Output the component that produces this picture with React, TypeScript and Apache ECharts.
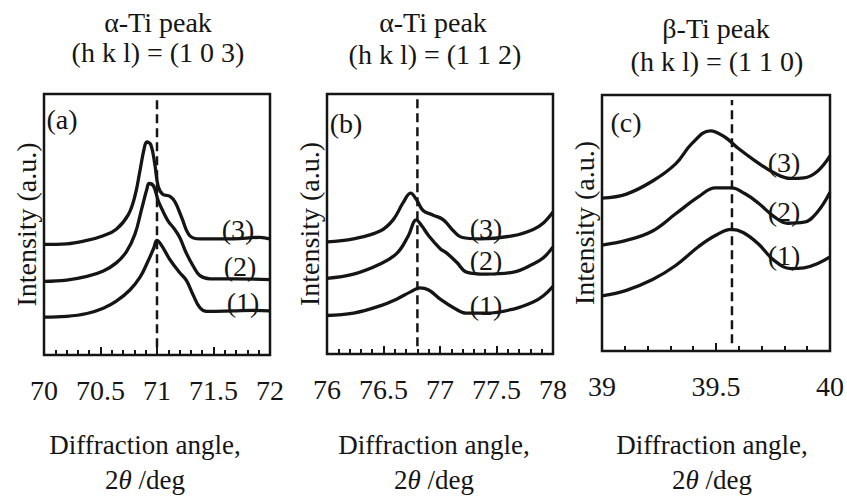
import React, { useEffect, useRef } from "react";
import * as echarts from "echarts";

// ---- data ----
const rangeA = [70, 72];
const rangeB = [76, 78];
const rangeC = [39, 40];

const aX1 = [70.0, 70.2, 70.38, 70.525, 70.64, 70.76, 70.85, 70.92, 70.97, 71.0, 71.04, 71.115, 71.2, 71.26, 71.32, 71.38, 71.44, 71.675, 71.85, 72.0];
const aY1 = [14.5, 14.8, 15.9, 17.9, 20.6, 24.9, 29.8, 35.9, 40.8, 43.9, 42.0, 36.5, 31.6, 28.6, 23.0, 18.1, 16.7, 16.9, 17.1, 16.9];
const aX2 = [70.0, 70.2, 70.38, 70.525, 70.64, 70.73, 70.805, 70.865, 70.91, 70.93, 70.97, 71.01, 71.055, 71.1, 71.145, 71.2, 71.26, 71.32, 71.38, 71.47, 71.675, 72.0];
const aY2 = [28.2, 28.7, 30.1, 32.2, 35.3, 39.6, 46.3, 56.1, 63.5, 65.7, 64.7, 59.2, 54.9, 51.2, 48.8, 45.1, 39.0, 34.1, 30.4, 29.2, 29.2, 28.9];
const aX3 = [70.0, 70.2, 70.38, 70.525, 70.64, 70.745, 70.805, 70.85, 70.885, 70.91, 70.945, 70.98, 71.01, 71.05, 71.115, 71.16, 71.22, 71.29, 71.38, 71.675, 71.91, 72.0];
const aY3 = [42.4, 42.6, 43.9, 45.7, 48.2, 53.7, 61.0, 70.8, 78.8, 81.6, 80.6, 73.3, 64.7, 61.6, 60.8, 58.6, 52.5, 45.7, 44.5, 44.5, 45.1, 44.5];

const bX1 = [76.0, 76.235, 76.47, 76.62, 76.735, 76.82, 76.9, 77.0, 77.12, 77.235, 77.41, 77.65, 77.825, 77.915, 78.0];
const bY1 = [14.8, 15.7, 18.5, 21.2, 23.8, 25.4, 24.6, 21.2, 17.8, 15.7, 15.7, 17.3, 20.0, 22.4, 26.0];
const bX2 = [76.0, 76.235, 76.47, 76.62, 76.72, 76.79, 76.84, 76.9, 77.0, 77.06, 77.15, 77.235, 77.41, 77.65, 77.825, 77.915, 78.0];
const bY2 = [29.1, 30.7, 34.6, 38.8, 45.5, 51.6, 49.2, 45.5, 40.6, 38.8, 35.2, 31.5, 30.7, 31.5, 34.6, 37.0, 41.2];
const bX3 = [76.0, 76.235, 76.47, 76.585, 76.675, 76.74, 76.79, 76.85, 76.94, 77.03, 77.12, 77.19, 77.355, 77.65, 77.825, 77.915, 78.0];
const bY3 = [43.1, 44.3, 47.3, 51.6, 58.3, 61.9, 59.5, 55.2, 53.4, 51.6, 47.3, 44.9, 44.3, 45.5, 47.9, 50.4, 54.6];

const cX1 = [39.0, 39.107, 39.222, 39.323, 39.424, 39.497, 39.568, 39.619, 39.684, 39.756, 39.828, 39.886, 39.944, 40.0];
const cY1 = [21.5, 23.7, 27.9, 33.4, 40.8, 45.1, 47.5, 46.3, 42.0, 35.3, 32.2, 32.5, 34.1, 36.8];
const cX2 = [39.0, 39.107, 39.222, 39.323, 39.424, 39.497, 39.568, 39.626, 39.684, 39.756, 39.814, 39.886, 39.944, 40.0];
const cY2 = [41.4, 43.2, 46.9, 53.6, 60.3, 63.7, 63.7, 61.5, 57.9, 52.4, 49.9, 50.3, 54.2, 62.0];
const cX3 = [39.0, 39.107, 39.222, 39.323, 39.395, 39.475, 39.54, 39.597, 39.67, 39.756, 39.828, 39.886, 39.944, 40.0];
const cY3 = [59.7, 61.3, 66.4, 73.1, 81.1, 86.0, 83.5, 79.2, 74.4, 69.5, 67.4, 67.6, 70.1, 76.2];

const peakPositions = [71.0, 76.8, 39.57];
const peakLineSpan = [3, 98];

const titlesLine1 = ["α-Ti peak", "α-Ti peak", "β-Ti peak"];
const titlesLine2 = ["(h k l) = (1 0 3)", "(h k l) = (1 1 2)", "(h k l) = (1 1 0)"];
const panelTags = ["(a)", "(b)", "(c)"];
const curveTags = ["(1)", "(2)", "(3)"];

const FONT = "'Liberation Serif', 'Times New Roman', serif";
const INK = "#151515";

const grids = [
  { left: 44, top: 94, width: 226, height: 272 },
  { left: 327, top: 94, width: 226, height: 274 },
  { left: 602, top: 95, width: 231, height: 273 },
];

function pairs(xs: number[], ys: number[]) {
  return xs.map((x, i) => [x, ys[i]]);
}

function txt(text: string, x: number, y: number, size = 28) {
  return {
    type: "text",
    x,
    y,
    silent: true,
    style: {
      text,
      fontSize: size,
      fontFamily: FONT,
      fill: INK,
      align: "center",
      verticalAlign: "middle",
      textAlign: "center",
      textVerticalAlign: "middle",
    },
  };
}

export default function App() {
  const ref = useRef<HTMLDivElement>(null);

  useEffect(() => {
    document.body.style.margin = "0";
    if (!ref.current) return;
    const chart = echarts.init(ref.current, undefined, { renderer: "svg" });

    const ranges = [rangeA, rangeB, rangeC];
    const curves = [
      [pairs(aX1, aY1), pairs(aX2, aY2), pairs(aX3, aY3)],
      [pairs(bX1, bY1), pairs(bX2, bY2), pairs(bX3, bY3)],
      [pairs(cX1, cY1), pairs(cX2, cY2), pairs(cX3, cY3)],
    ];
    const xNameGaps = [72, 73, 76];
    const xNamePad = [[0, 24, 0, 0], [0, 12, 0, 0], [0, 8, 0, 0]];

    const series: any[] = [];
    curves.forEach((panel, gi) => {
      panel.forEach((data, ci) => {
        series.push({
          type: "line",
          name: `${panelTags[gi]} ${curveTags[ci]}`,
          xAxisIndex: gi,
          yAxisIndex: gi,
          data,
          smooth: 0.4,
          showSymbol: false,
          symbol: "none",
          lineStyle: { color: INK, width: 3.3 },
          silent: true,
        });
      });
      series.push({
        type: "line",
        name: `${panelTags[gi]} peak`,
        xAxisIndex: gi,
        yAxisIndex: gi,
        data: peakLineSpan.map((v) => [peakPositions[gi], v]),
        showSymbol: false,
        symbol: "none",
        lineStyle: { color: INK, width: 2.5, type: [9, 5] },
        silent: true,
      });
    });

    const graphic: any[] = [
      txt(titlesLine1[0], 158, 22),
      txt(titlesLine2[0], 158, 52),
      txt(titlesLine1[1], 433, 22),
      txt(titlesLine2[1], 435, 54),
      txt(titlesLine1[2], 716, 28),
      txt(titlesLine2[2], 717, 61),
      txt(panelTags[0], 62, 119),
      txt(panelTags[1], 346, 123),
      txt(panelTags[2], 626, 122),
      txt(curveTags[2], 238, 229),
      txt(curveTags[1], 240, 266),
      txt(curveTags[0], 243, 302),
      txt(curveTags[2], 486, 228),
      txt(curveTags[1], 486, 260),
      txt(curveTags[0], 486, 305),
      txt(curveTags[2], 784, 162),
      txt(curveTags[1], 784, 211),
      txt(curveTags[0], 784, 255),
    ];

    const option: any = {
      animation: false,
      backgroundColor: "#ffffff",
      textStyle: { fontFamily: FONT },
      grid: grids.map((g) => ({
        ...g,
        show: true,
        borderColor: INK,
        borderWidth: 2.5,
        backgroundColor: "transparent",
        containLabel: false,
      })),
      xAxis: ranges.map((r, gi) => ({
        type: "value",
        gridIndex: gi,
        min: r[0],
        max: r[1],
        interval: 0.5,
        axisLine: { show: false },
        axisTick: { show: true, inside: true, length: 8, lineStyle: { color: INK, width: 2 } },
        minorTick: { show: true, splitNumber: 5, length: 5, lineStyle: { color: INK, width: 2 } },
        splitLine: { show: false },
        minorSplitLine: { show: false },
        axisLabel: {
          show: true,
          margin: 21,
          fontSize: 28,
          fontFamily: FONT,
          color: INK,
        },
        name: "Diffraction angle,\n2{i|θ} /deg",
        nameLocation: "middle",
        nameGap: xNameGaps[gi],
        nameTextStyle: {
          fontSize: 27,
          fontFamily: FONT,
          color: INK,
          lineHeight: 35,
          padding: xNamePad[gi],
          rich: {
            i: { fontSize: 27, fontFamily: FONT, fontStyle: "italic", color: INK },
          },
        },
      })),
      yAxis: ranges.map((_, gi) => ({
        type: "value",
        gridIndex: gi,
        min: 0,
        max: 100,
        axisLine: { show: false },
        axisTick: { show: false },
        axisLabel: { show: false },
        splitLine: { show: false },
        name: "Intensity (a.u.)",
        nameLocation: "middle",
        nameRotate: 90,
        nameGap: 4,
        nameTextStyle: { fontSize: 28, fontFamily: FONT, color: INK },
      })),
      series,
      graphic,
    };

    chart.setOption(option);
    return () => chart.dispose();
  }, []);

  return <div ref={ref} style={{ width: 847, height: 502 }} />;
}
